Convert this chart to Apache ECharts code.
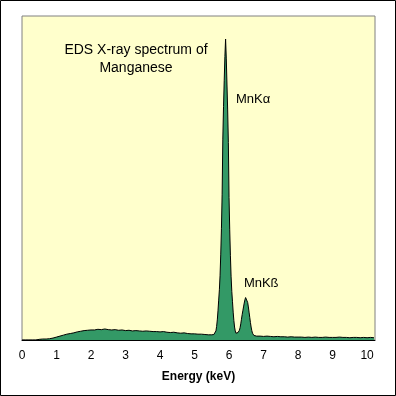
<!DOCTYPE html>
<html>
<head>
<meta charset="utf-8">
<script src="https://cdn.jsdelivr.net/npm/echarts@6/dist/echarts.min.js"></script>
<style>
html,body{margin:0;padding:0;background:#fff;}
#c{width:396px;height:396px;}
</style>
</head>
<body>
<div id="c"></div>
<script>
// Energy (keV) and counts (relative, 1000 = top of plot)
const energy = [
  0.0,0.1,0.2,0.3,0.4,0.5,0.6,0.7,0.8,0.9,
  1.0,1.1,1.2,1.3,1.4,1.5,1.6,1.7,1.8,1.9,
  2.0,2.1,2.2,2.3,2.4,2.5,2.6,2.7,2.8,2.9,
  3.0,3.1,3.2,3.3,3.4,3.5,3.6,3.7,3.8,3.9,
  4.0,4.1,4.2,4.3,4.4,4.5,4.6,4.7,4.8,4.9,
  5.0,5.1,5.2,5.3,5.4,5.5,5.56,5.58,
  5.60,5.62,5.64,5.66,5.68,5.70,5.72,5.74,5.76,5.78,
  5.80,5.82,5.84,5.86,5.88,5.90,5.92,5.94,5.96,5.98,
  6.00,6.02,6.04,6.06,6.08,6.10,6.12,6.14,6.16,6.18,
  6.20,6.22,6.24,6.26,6.28,6.30,6.32,6.34,6.36,6.38,
  6.40,6.42,6.44,6.46,6.48,6.50,6.52,6.54,6.56,6.58,
  6.60,6.62,6.64,6.66,6.68,6.70,6.72,6.76,6.80,
  6.9,7.0,7.1,7.2,7.3,7.4,7.5,7.6,7.7,7.8,7.9,
  8.0,8.1,8.2,8.3,8.4,8.5,8.6,8.7,8.8,8.9,
  9.0,9.1,9.2,9.3,9.4,9.5,9.6,9.7,9.8,9.9,
  10.0,10.1,10.2
];
const counts = [
  0,0,0,0,0,2,3,3,4,6,
  9,12,15,18,20,22,25,27,29,30,
  31,31,33,32,34,32,31,32,30,31,
  29,30,28,29,28,27,28,27,26,26,
  25,26,24,23,24,22,21,22,20,19,
  19,18,18,17,16,16,17,17,
  20,28,42,62,90,123,155,200,265,345,
  450,620,720,800,875,929,870,790,710,610,
  440,340,260,195,150,118,86,60,40,28,
  21,19,20,23,28,30,38,50,64,78,
  90,102,114,124,131,134,127,116,102,86,
  70,54,40,29,21,16,14,13,12,
  12,11,12,11,10,11,10,10,9,10,9,
  9,9,8,9,8,9,8,8,9,8,
  8,8,9,8,8,7,8,8,7,8,
  7,8,7
];
const xTicks = [0,1,2,3,4,5,6,7,8,9,10];
const titleLines = ['EDS X-ray spectrum of', 'Manganese'];
const peakLabels = [
  { text: 'MnK\u03b1', x: 6.20, y: 741 },
  { text: 'MnK\u00df', x: 6.43, y: 176 }
];

const chart = echarts.init(document.getElementById('c'), null, {renderer: 'canvas'});
const FONT = '"Liberation Sans", Arial, sans-serif';
const gridLeft = 22, gridTop = 16, gridRight = 21, gridBottom = 56;

chart.setOption({
  animation: false,
  backgroundColor: '#ffffff',
  grid: {
    left: gridLeft, top: gridTop, right: gridRight, bottom: gridBottom,
    show: true, backgroundColor: '#FFFFCC', borderColor: '#808080', borderWidth: 1
  },
  xAxis: {
    type: 'value', min: 0, max: 10.23, interval: 1,
    axisLine: { show: true, onZero: false, lineStyle: { color: '#000', width: 1 } },
    axisTick: { show: false },
    splitLine: { show: false },
    axisLabel: {
      color: '#000', fontFamily: FONT, fontSize: 12, margin: 10,
      formatter: v => xTicks.indexOf(v) >= 0 ? String(v) : ''
    },
    name: 'Energy (keV)', nameLocation: 'middle', nameGap: 31,
    nameTextStyle: { color: '#000', fontFamily: FONT, fontSize: 12, fontWeight: 'bold' }
  },
  yAxis: {
    type: 'value', min: 0, max: 1000, show: false, splitLine: { show: false }
  },
  series: [{
    type: 'line',
    data: energy.map((e, i) => [e, counts[i]]),
    symbol: 'none',
    smooth: false,
    lineStyle: { color: '#000', width: 1 },
    areaStyle: { color: '#339966', opacity: 1 },
    z: 2
  }]
});

// Text annotations positioned via the chart's own scales
const g = [
  { type: 'rect', shape: { x: 0.5, y: 0.5, width: 395, height: 395 },
    style: { fill: 'none', stroke: '#000', lineWidth: 1 }, z: 100, silent: true },
  { type: 'text', x: 136, y: 50, style: { text: titleLines[0], fill: '#000', font: '14px ' + FONT, textAlign: 'center', textVerticalAlign: 'middle' }, z: 50 },
  { type: 'text', x: 136, y: 68, style: { text: titleLines[1], fill: '#000', font: '14px ' + FONT, textAlign: 'center', textVerticalAlign: 'middle' }, z: 50 }
];
peakLabels.forEach(p => {
  const px = chart.convertToPixel({ gridIndex: 0 }, [p.x, p.y]);
  g.push({ type: 'text', x: px[0], y: px[1], style: { text: p.text, fill: '#000', font: '13px ' + FONT, textAlign: 'left', textVerticalAlign: 'middle' }, z: 50 });
});
chart.setOption({ graphic: g }, { replaceMerge: ['graphic'] });
</script>
</body>
</html>
